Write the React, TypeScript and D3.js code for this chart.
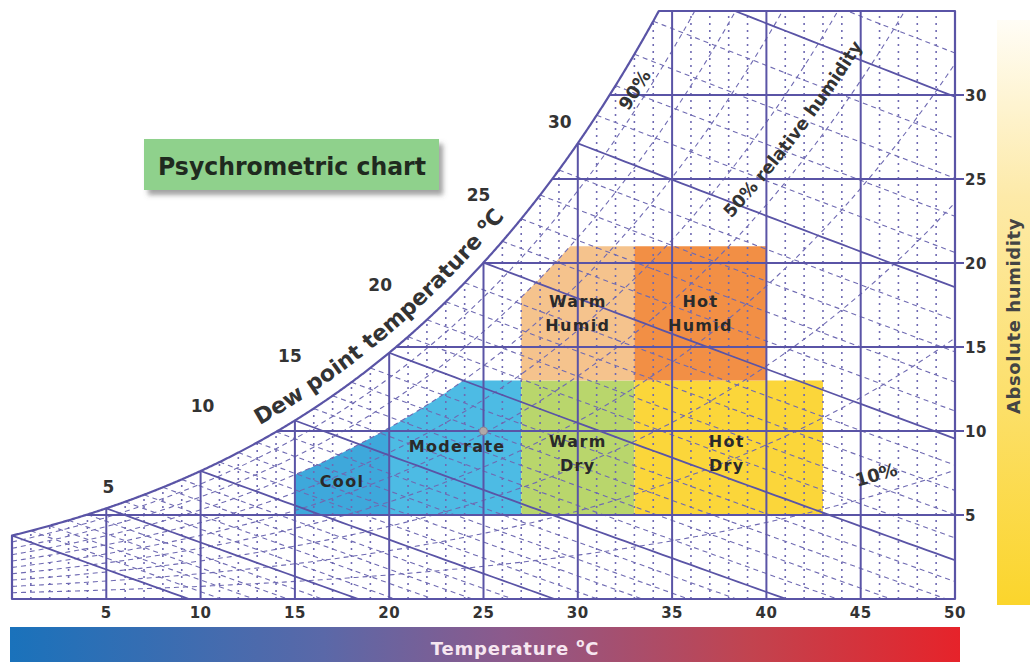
import React from 'react';
import * as d3 from 'd3';

// ---------- data ----------
const temperatureTicks = [5, 10, 15, 20, 25, 30, 35, 40, 45, 50];
const humidityTicks = [5, 10, 15, 20, 25, 30];
const dewPointLabels = [5, 10, 15, 20, 25, 30];
const rhCurves = [10, 20, 30, 40, 50, 60, 70, 80, 90];
const rhLabelValues = [90, 50, 10];
const rhLabelTexts = ['90%', '50% relative humidity', '10%'];
const rhLabelStartT = [32.9, 38.8, 45.0];
const wetBulbMajor = [0, 5, 10, 15, 20, 25, 30, 35];
const wetBulbMinor = [1, 2, 3, 4, 6, 7, 8, 9, 11, 12, 13, 14, 16, 17, 18, 19, 21, 22, 23, 24, 26, 27, 28, 29, 31, 32, 33, 34, 36, 37, 38, 39];
const minorTemps = [1, 2, 3, 4, 6, 7, 8, 9, 11, 12, 13, 14, 16, 17, 18, 19, 21, 22, 23, 24, 26, 27, 28, 29, 31, 32, 33, 34, 36, 37, 38, 39, 41, 42, 43, 44, 46, 47, 48, 49];

const zoneNames = ['Cool', 'Moderate', 'Warm Dry', 'Hot Dry', 'Warm Humid', 'Hot Humid'];
const zoneTMin = [15, 20, 27, 33, 27, 33];
const zoneTMax = [20, 27, 33, 43, 33, 40];
const zoneHMin = [5, 5, 5, 5, 13, 13];
const zoneHMax = [13, 13, 13, 13, 21, 21];
const zoneRhCap = [70, 70, 100, 100, 80, 100];
const zoneColors = ['#3ea8db', '#4dbbe4', '#b9d66c', '#fbd63a', '#f5c38d', '#f28f45'];
const zoneLabelT = [17.5, 23.6, 30, 37.9, 30, 36.5];
const zoneLabelH = [7.0, 9.1, 8.7, 8.7, 17.0, 17.0];

const comfortPoint = { t: 25, h: 10 };

// ---------- psychrometrics ----------
const pws = (t: number) => 6.112 * Math.exp((17.62 * t) / (243.12 + t));
const ws = (t: number, rh = 100) => {
  const p = (pws(t) * rh) / 100;
  return (622 * p) / (1013.25 - p);
};
const wetBulbW = (twb: number, t: number) => {
  const w = ws(twb) / 1000;
  return (((2501 - 2.326 * twb) * w - 1.006 * (t - twb)) / (2501 + 1.86 * t - 4.186 * twb)) * 1000;
};

// ---------- layout ----------
const W = 1030;
const H = 664;
const x = d3.scaleLinear().domain([0, 50]).range([12, 955]);
const y = d3.scaleLinear().domain([0, 35]).range([599, 11]);
const H_MAX = 35;

function solveTopT() {
  let lo = 0, hi = 50;
  for (let i = 0; i < 60; i++) {
    const m = (lo + hi) / 2;
    if (ws(m) > H_MAX) hi = m; else lo = m;
  }
  return (lo + hi) / 2;
}
const topT = solveTopT();

const line = d3.line<[number, number]>().x((d) => x(d[0])).y((d) => y(d[1]));
const pline = d3.line<[number, number]>().x((d) => d[0]).y((d) => d[1]);

function curvePoints(rh: number, t0: number, t1: number, step = 0.1): [number, number][] {
  const pts: [number, number][] = [];
  for (let t = t0; t <= t1 + 1e-9; t += step) pts.push([t, ws(t, rh)]);
  return pts;
}

function offsetPath(rh: number, t0: number, t1: number, off: number) {
  const raw = curvePoints(rh, t0 - 0.05, t1 + 0.3, 0.05).map((d) => [x(d[0]), y(d[1])] as [number, number]);
  const res: [number, number][] = [];
  for (let i = 1; i < raw.length - 1; i++) {
    const dx = raw[i + 1][0] - raw[i - 1][0];
    const dy = raw[i + 1][1] - raw[i - 1][1];
    const len = Math.hypot(dx, dy);
    res.push([raw[i][0] + (dy / len) * off, raw[i][1] + (-dx / len) * off]);
  }
  return pline(res) || '';
}

const satCurve = curvePoints(100, 0, topT, 0.05);
const clipPts: [number, number][] = [...satCurve, [topT, H_MAX], [50, H_MAX], [50, 0], [0, 0]];
const clipD = (line(clipPts) || '') + 'Z';

function wetBulbPath(twb: number) {
  const pts: [number, number][] = [];
  for (let t = twb; t <= 50.01; t += 0.5) {
    const w = wetBulbW(twb, t);
    pts.push([t, w]);
    if (w < 0) break;
  }
  return line(pts) || '';
}

function zonePath(i: number) {
  const pts: [number, number][] = [];
  const t0 = zoneTMin[i], t1 = zoneTMax[i];
  for (let t = t0; t <= t1 + 1e-9; t += 0.1) {
    pts.push([t, Math.min(zoneHMax[i], ws(t, zoneRhCap[i]))]);
  }
  pts.push([t1, zoneHMin[i]]);
  pts.push([t0, zoneHMin[i]]);
  return (line(pts) || '') + 'Z';
}

const GRID = '#5a54a6';
const GRID_LIGHT = '#6f6ab2';
const FONT = '"DejaVu Sans", "Liberation Sans", Arial, sans-serif';
const TEXT = '#333333';

function dewLabelShift(t: number): [number, number] {
  if (t === 5) return [2, -15];
  if (t === 10) return [2, -59];
  if (t === 15) return [-5, -59];
  if (t === 20) return [-9, -62];
  if (t === 25) return [-5, -62];
  return [-18, -15];
}

function rhOffset(rh: number) {
  if (rh === 50) return 17;
  if (rh === 10) return 13;
  return 5;
}

export default function App() {
  const dewPath = offsetPath(100, 13.5, 36, 14);
  return (
    <div style={{ position: 'fixed', left: 0, top: 0, width: W, height: H, background: '#fff' }}>
      <svg width={W} height={H} style={{ display: 'block' }} fontFamily={FONT}>
        <defs>
          <clipPath id="chartClip">
            <path d={clipD} />
          </clipPath>
          <linearGradient id="tempGrad" x1="0" x2="1" y1="0" y2="0">
            <stop offset="0" stopColor="#1a72bb" />
            <stop offset="0.33" stopColor="#5a68a8" />
            <stop offset="0.52" stopColor="#8c5a8c" />
            <stop offset="0.78" stopColor="#c2434f" />
            <stop offset="1" stopColor="#e6232a" />
          </linearGradient>
          <linearGradient id="humGrad" x1="0" x2="0" y1="0" y2="1">
            <stop offset="0" stopColor="#fffdf6" />
            <stop offset="0.3" stopColor="#fdeaa9" />
            <stop offset="1" stopColor="#fbd52c" />
          </linearGradient>
          <filter id="shadow" x="-10%" y="-30%" width="130%" height="180%">
            <feDropShadow dx="4" dy="5" stdDeviation="2.5" floodColor="#555" floodOpacity="0.55" />
          </filter>
          <path id="dewTextPath" d={dewPath} />
          {rhLabelValues.map((rh, i) => (
            <path key={rh} id={`rhText${i}`} d={offsetPath(rh, rhLabelStartT[i], 50, rhOffset(rh))} />
          ))}
        </defs>

        {/* colour bars */}
        <rect x={10} y={627} width={950} height={35} fill="url(#tempGrad)" />
        <text x={515} y={655} textAnchor="middle" fontSize={18} fontWeight="bold" fill="#f6e6f0" letterSpacing={0.8}>
          Temperature <tspan fontSize={12} dy={-8}>o</tspan><tspan dy={8}>C</tspan>
        </text>
        <rect x={997} y={20} width={33} height={585} fill="url(#humGrad)" />
        <text transform="translate(1020,316) rotate(-90)" textAnchor="middle" fontSize={18} fontWeight="bold" fill="#444" letterSpacing={0.6}>
          Absolute humidity
        </text>

        {/* zones */}
        {zoneNames.map((n, i) => (
          <path key={n} d={zonePath(i)} fill={zoneColors[i]} />
        ))}

        {/* grid */}
        <g clipPath="url(#chartClip)" fill="none">
          {minorTemps.map((t) => (
            <line key={`mt${t}`} x1={x(t)} x2={x(t)} y1={y(0)} y2={y(H_MAX)} stroke={GRID_LIGHT} strokeWidth={1.6} strokeDasharray="2 5" />
          ))}
          {wetBulbMinor.map((t) => (
            <path key={`wbm${t}`} d={wetBulbPath(t)} stroke={GRID_LIGHT} strokeWidth={1.1} strokeDasharray="5 4" />
          ))}
          {rhCurves.map((rh) => (
            <path key={`rh${rh}`} d={line(curvePoints(rh, 0, 50, 0.2)) || ''} stroke={GRID_LIGHT} strokeWidth={1.1} strokeDasharray="5 4" />
          ))}
          {temperatureTicks.map((t) => (
            <line key={`vt${t}`} x1={x(t)} x2={x(t)} y1={y(0)} y2={y(H_MAX)} stroke={GRID} strokeWidth={2} />
          ))}
          {humidityTicks.map((h) => (
            <line key={`hh${h}`} x1={x(0)} x2={x(50)} y1={y(h)} y2={y(h)} stroke={GRID} strokeWidth={2} />
          ))}
          {wetBulbMajor.map((t) => (
            <path key={`wb${t}`} d={wetBulbPath(t)} stroke={GRID} strokeWidth={1.8} />
          ))}
        </g>

        {/* outline */}
        <path d={clipD} fill="none" stroke={GRID} strokeWidth={2.2} strokeLinejoin="round" />

        {/* comfort point */}
        <circle cx={x(comfortPoint.t)} cy={y(comfortPoint.h)} r={4} fill="#b0a8a8" stroke="#8a8290" strokeWidth={1} />

        {/* zone labels */}
        {zoneNames.map((n, i) => {
          const parts = n.split(' ');
          const cx = x(zoneLabelT[i]);
          const cy = y(zoneLabelH[i]);
          return (
            <text key={`zl${n}`} x={cx} y={cy} textAnchor="middle" fontSize={16} fontWeight="bold" fill="#2a2a2a" letterSpacing={1.3}>
              {parts.length === 1 ? (
                <tspan x={cx} dy={6}>{parts[0]}</tspan>
              ) : (
                <>
                  <tspan x={cx} dy={-6}>{parts[0]}</tspan>
                  <tspan x={cx} dy={24}>{parts[1]}</tspan>
                </>
              )}
            </text>
          );
        })}

        {/* right ticks & labels */}
        {humidityTicks.map((h) => (
          <g key={`rt${h}`}>
            <line x1={x(50)} x2={x(50) + 9} y1={y(h)} y2={y(h)} stroke={GRID} strokeWidth={2} />
            <text x={x(50) + 10} y={y(h) + 6} fontSize={15} fontWeight="bold" fill={TEXT} letterSpacing={0.5}>{h}</text>
          </g>
        ))}

        {/* bottom labels */}
        {temperatureTicks.map((t) => (
          <text key={`bt${t}`} x={x(t)} y={618} textAnchor="middle" fontSize={15} fontWeight="bold" fill={TEXT} letterSpacing={0.5}>{t}</text>
        ))}

        {/* dew point labels */}
        {dewPointLabels.map((t) => {
          const [dx, dy] = dewLabelShift(t);
          return (
            <text key={`dp${t}`} x={x(t) + dx} y={y(ws(t)) + dy} textAnchor="middle" fontSize={17} fontWeight="bold" fill={TEXT}>{t}</text>
          );
        })}

        <text fontSize={22} fontWeight="bold" fill={TEXT}>
          <textPath href="#dewTextPath">Dew point temperature <tspan fontSize={14} dy={-9}>o</tspan><tspan dy={9}>C</tspan></textPath>
        </text>

        {rhLabelValues.map((rh, i) => (
          <text key={`rl${rh}`} fontSize={rh === 50 ? 17.5 : 18} fontWeight="bold" fill={TEXT}>
            <textPath href={`#rhText${i}`}>{rhLabelTexts[i]}</textPath>
          </text>
        ))}

        {/* title box */}
        <rect x={144} y={139} width={295} height={51} fill="#8fd18c" filter="url(#shadow)" />
        <text x={292} y={175} textAnchor="middle" fontSize={24} fontWeight="bold" fill="#1f2a1f" textLength={268} lengthAdjust="spacingAndGlyphs">Psychrometric chart</text>
      </svg>
    </div>
  );
}
